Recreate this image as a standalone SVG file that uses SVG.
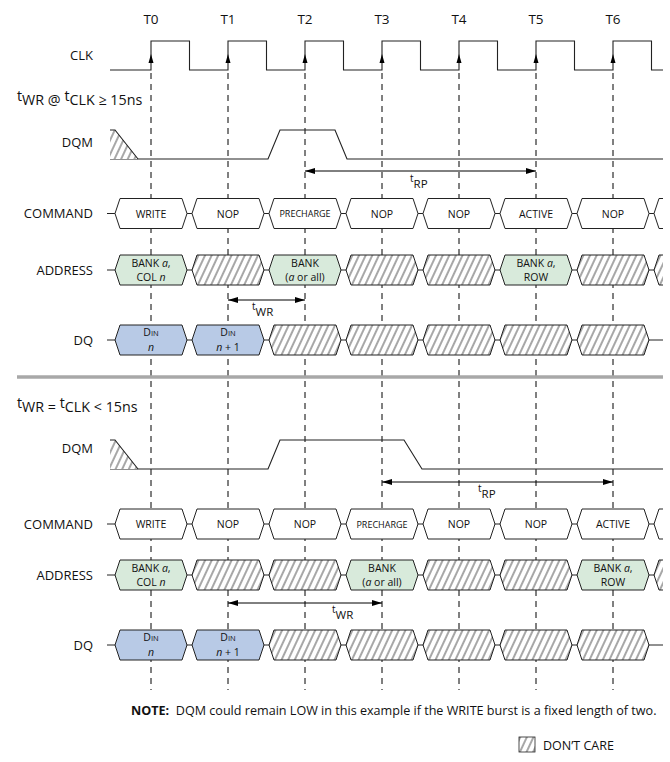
<svg xmlns="http://www.w3.org/2000/svg" xmlns:xlink="http://www.w3.org/1999/xlink" width="670" height="762" viewBox="0 0 670 762">
<style>
text{font-family:"Open Sans","Noto Sans","DejaVu Sans",sans-serif;fill:#111}
.lbl{font-size:13px;text-anchor:end}
.tk{font-size:13.5px;text-anchor:middle}
.bx{font-size:10.5px;text-anchor:middle}
.pc{font-size:9px;text-anchor:middle}
.ad{font-size:10.5px;text-anchor:middle}
.w{fill:#fff;stroke:#222;stroke-width:1}
.g{fill:#d8eadb;stroke:#222;stroke-width:1}
.b{fill:#b8cae6;stroke:#222;stroke-width:1}
.h{fill:url(#hatch);stroke:#222;stroke-width:1}
.dash{stroke:#000;stroke-width:1;stroke-dasharray:6 5;fill:none}
.sig{fill:none;stroke:#222;stroke-width:1.1}
.row{stroke:#222;stroke-width:1}
.dim{stroke:#000;stroke-width:1;marker-start:url(#ah);marker-end:url(#ah)}
</style>
<defs>
<pattern id="hatch" width="6" height="10" patternUnits="userSpaceOnUse" patternTransform="rotate(25)">
<rect width="6" height="10" fill="#fff"/>
<path d="M3,-1V11" stroke="#222" stroke-width="0.8"/>
</pattern>
<polygon id="hx" points="-36,0 -31,-15 31,-15 36,0 31,15 -31,15"/>
<marker id="ah" viewBox="0 0 10 6" refX="10" refY="3" markerWidth="10" markerHeight="6" markerUnits="userSpaceOnUse" orient="auto-start-reverse">
<path d="M0,0L10,3L0,6z" fill="#000"/>
</marker>
<clipPath id="clip"><rect x="0" y="0" width="663" height="762"/></clipPath>
</defs>

<g id="tick-labels">
<text class="tk" x="151" y="24">T0</text>
<text class="tk" x="228" y="24">T1</text>
<text class="tk" x="305" y="24">T2</text>
<text class="tk" x="382" y="24">T3</text>
<text class="tk" x="459" y="24">T4</text>
<text class="tk" x="536" y="24">T5</text>
<text class="tk" x="613" y="24">T6</text>
</g>

<g id="signal-labels">
<text class="lbl" x="93" y="60">CLK</text>
<text class="lbl" x="93" y="147">DQM</text>
<text class="lbl" x="93" y="218">COMMAND</text>
<text class="lbl" x="93" y="275">ADDRESS</text>
<text class="lbl" x="93" y="345">DQ</text>
<text class="lbl" x="93" y="453">DQM</text>
<text class="lbl" x="93" y="529">COMMAND</text>
<text class="lbl" x="93" y="580">ADDRESS</text>
<text class="lbl" x="93" y="650">DQ</text>
<text x="17" y="105" font-size="14.3"><tspan dy="-4">t</tspan><tspan dy="4">WR @ </tspan><tspan dy="-4">t</tspan><tspan dy="4">CLK ≥ 15ns</tspan></text>
<text x="17" y="412" font-size="14.3"><tspan dy="-4">t</tspan><tspan dy="4">WR = </tspan><tspan dy="-4">t</tspan><tspan dy="4">CLK &lt; 15ns</tspan></text>
</g>

<g id="connectors">
<g id="gridlines">
<path class="dash" d="M151,73V690M228,73V690M305,73V690M382,73V690M459,73V690M536,73V690M613,73V690"/>
</g>
<path id="clk" class="sig" d="M110,70H151V41H189.5V70H228V41H266.5V70H305V41H343.5V70H382V41H420.5V70H459V41H497.5V70H536V41H574.5V70H613V41H651.5V70H663"/>
<g id="clk-arrows">
<path d="M148.5,63L151,54L153.5,63z M225.5,63L228,54L230.5,63z M302.5,63L305,54L307.5,63z M379.5,63L382,54L384.5,63z M456.5,63L459,54L461.5,63z M533.5,63L536,54L538.5,63z M610.5,63L613,54L615.5,63z" fill="#000"/>
</g>
<path id="dqm1" class="sig" d="M110,159H268L280,130H335L347,159H663"/>
<path id="dqm2" class="sig" d="M110,469H268L280,440H404L422,469H663"/>
<g id="dqm-hatch">
<polygon points="110,130 115,130 138,159 110,159" fill="url(#hatch)"/>
<polyline class="sig" points="110,130 115,130 138,159"/>
<polygon points="110,440 115,440 138,469 110,469" fill="url(#hatch)"/>
<polyline class="sig" points="110,440 115,440 138,469"/>
</g>
<line class="row" x1="107" y1="213.5" x2="663" y2="213.5"/>
<line class="row" x1="107" y1="270" x2="663" y2="270"/>
<line class="row" x1="107" y1="340" x2="663" y2="340"/>
<line class="row" x1="107" y1="524" x2="663" y2="524"/>
<line class="row" x1="107" y1="575" x2="663" y2="575"/>
<line class="row" x1="107" y1="645" x2="663" y2="645"/>
<line class="dim" x1="305" y1="171" x2="536" y2="171"/>
<line class="dim" x1="228" y1="300" x2="305" y2="300"/>
<line class="dim" x1="382" y1="482" x2="613" y2="482"/>
<line class="dim" x1="228" y1="603" x2="382" y2="603"/>
<line x1="17" y1="377" x2="663" y2="377" stroke="#a8a8a8" stroke-width="3.5"/>
</g>

<g id="dim-labels">
<text x="410" y="188" font-size="11.5"><tspan font-size="10" dy="-6">t</tspan><tspan dy="6">RP</tspan></text>
<text x="252" y="316" font-size="11.5"><tspan font-size="10" dy="-6">t</tspan><tspan dy="6">WR</tspan></text>
<text x="478" y="498" font-size="11.5"><tspan font-size="10" dy="-6">t</tspan><tspan dy="6">RP</tspan></text>
<text x="332" y="619" font-size="11.5"><tspan font-size="10" dy="-6">t</tspan><tspan dy="6">WR</tspan></text>
</g>

<!-- top COMMAND -->
<g id="c1-0"><use href="#hx" x="151" y="213.5" class="w"/><text class="bx" x="151" y="217.5">WRITE</text></g>
<g id="c1-1"><use href="#hx" x="228" y="213.5" class="w"/><text class="bx" x="228" y="217.5">NOP</text></g>
<g id="c1-2"><use href="#hx" x="305" y="213.5" class="w"/><text class="pc" x="305" y="217">PRECHARGE</text></g>
<g id="c1-3"><use href="#hx" x="382" y="213.5" class="w"/><text class="bx" x="382" y="217.5">NOP</text></g>
<g id="c1-4"><use href="#hx" x="459" y="213.5" class="w"/><text class="bx" x="459" y="217.5">NOP</text></g>
<g id="c1-5"><use href="#hx" x="536" y="213.5" class="w"/><text class="bx" x="536" y="217.5">ACTIVE</text></g>
<g id="c1-6"><use href="#hx" x="613" y="213.5" class="w"/><text class="bx" x="613" y="217.5">NOP</text></g>
<g id="c1-7" clip-path="url(#clip)"><use href="#hx" x="690" y="213.5" class="w"/></g>

<!-- top ADDRESS -->
<g id="a1-0"><use href="#hx" x="151" y="270" class="g"/><text class="ad" x="151" y="267">BANK <tspan font-style="italic">a</tspan>,</text><text class="ad" x="151" y="281">COL <tspan font-style="italic">n</tspan></text></g>
<g id="a1-1"><use href="#hx" x="228" y="270" class="h"/></g>
<g id="a1-2"><use href="#hx" x="305" y="270" class="g"/><text class="ad" x="305" y="267">BANK</text><text class="ad" x="305" y="281">(<tspan font-style="italic">a</tspan> or all)</text></g>
<g id="a1-3"><use href="#hx" x="382" y="270" class="h"/></g>
<g id="a1-4"><use href="#hx" x="459" y="270" class="h"/></g>
<g id="a1-5"><use href="#hx" x="536" y="270" class="g"/><text class="ad" x="536" y="267">BANK <tspan font-style="italic">a</tspan>,</text><text class="ad" x="536" y="281">ROW</text></g>
<g id="a1-6"><use href="#hx" x="613" y="270" class="h"/></g>
<g id="a1-7" clip-path="url(#clip)"><use href="#hx" x="690" y="270" class="h"/></g>

<!-- top DQ -->
<g id="d1-0"><use href="#hx" x="151" y="340" class="b"/><text class="ad" x="151" y="336" font-size="10">D<tspan font-size="7.5">IN</tspan></text><text class="ad" x="151" y="351" font-style="italic">n</text></g>
<g id="d1-1"><use href="#hx" x="228" y="340" class="b"/><text class="ad" x="228" y="336" font-size="10">D<tspan font-size="7.5">IN</tspan></text><text class="ad" x="228" y="351"><tspan font-style="italic">n</tspan> + 1</text></g>
<g id="d1-2"><use href="#hx" x="305" y="340" class="h"/></g>
<g id="d1-3"><use href="#hx" x="382" y="340" class="h"/></g>
<g id="d1-4"><use href="#hx" x="459" y="340" class="h"/></g>
<g id="d1-5"><use href="#hx" x="536" y="340" class="h"/></g>
<g id="d1-6"><use href="#hx" x="613" y="340" class="h"/></g>

<!-- bottom COMMAND -->
<g id="c2-0"><use href="#hx" x="151" y="524" class="w"/><text class="bx" x="151" y="528">WRITE</text></g>
<g id="c2-1"><use href="#hx" x="228" y="524" class="w"/><text class="bx" x="228" y="528">NOP</text></g>
<g id="c2-2"><use href="#hx" x="305" y="524" class="w"/><text class="bx" x="305" y="528">NOP</text></g>
<g id="c2-3"><use href="#hx" x="382" y="524" class="w"/><text class="pc" x="382" y="527.5">PRECHARGE</text></g>
<g id="c2-4"><use href="#hx" x="459" y="524" class="w"/><text class="bx" x="459" y="528">NOP</text></g>
<g id="c2-5"><use href="#hx" x="536" y="524" class="w"/><text class="bx" x="536" y="528">NOP</text></g>
<g id="c2-6"><use href="#hx" x="613" y="524" class="w"/><text class="bx" x="613" y="528">ACTIVE</text></g>
<g id="c2-7" clip-path="url(#clip)"><use href="#hx" x="690" y="524" class="w"/></g>

<!-- bottom ADDRESS -->
<g id="a2-0"><use href="#hx" x="151" y="575" class="g"/><text class="ad" x="151" y="572">BANK <tspan font-style="italic">a</tspan>,</text><text class="ad" x="151" y="586">COL <tspan font-style="italic">n</tspan></text></g>
<g id="a2-1"><use href="#hx" x="228" y="575" class="h"/></g>
<g id="a2-2"><use href="#hx" x="305" y="575" class="h"/></g>
<g id="a2-3"><use href="#hx" x="382" y="575" class="g"/><text class="ad" x="382" y="572">BANK</text><text class="ad" x="382" y="586">(<tspan font-style="italic">a</tspan> or all)</text></g>
<g id="a2-4"><use href="#hx" x="459" y="575" class="h"/></g>
<g id="a2-5"><use href="#hx" x="536" y="575" class="h"/></g>
<g id="a2-6"><use href="#hx" x="613" y="575" class="g"/><text class="ad" x="613" y="572">BANK <tspan font-style="italic">a</tspan>,</text><text class="ad" x="613" y="586">ROW</text></g>
<g id="a2-7" clip-path="url(#clip)"><use href="#hx" x="690" y="575" class="h"/></g>

<!-- bottom DQ -->
<g id="d2-0"><use href="#hx" x="151" y="645" class="b"/><text class="ad" x="151" y="641" font-size="10">D<tspan font-size="7.5">IN</tspan></text><text class="ad" x="151" y="656" font-style="italic">n</text></g>
<g id="d2-1"><use href="#hx" x="228" y="645" class="b"/><text class="ad" x="228" y="641" font-size="10">D<tspan font-size="7.5">IN</tspan></text><text class="ad" x="228" y="656"><tspan font-style="italic">n</tspan> + 1</text></g>
<g id="d2-2"><use href="#hx" x="305" y="645" class="h"/></g>
<g id="d2-3"><use href="#hx" x="382" y="645" class="h"/></g>
<g id="d2-4"><use href="#hx" x="459" y="645" class="h"/></g>
<g id="d2-5"><use href="#hx" x="536" y="645" class="h"/></g>
<g id="d2-6"><use href="#hx" x="613" y="645" class="h"/></g>

<g id="note">
<text x="131" y="715" font-size="12.6" style="white-space:pre"><tspan font-weight="bold">NOTE:</tspan>  DQM could remain LOW in this example if the WRITE burst is a fixed length of two.</text>
</g>
<g id="legend">
<rect x="519" y="737" width="16" height="15" fill="url(#hatch)" stroke="#222" stroke-width="0.8"/>
<text x="543" y="750" font-size="12.5">DON’T CARE</text>
</g>
</svg>
